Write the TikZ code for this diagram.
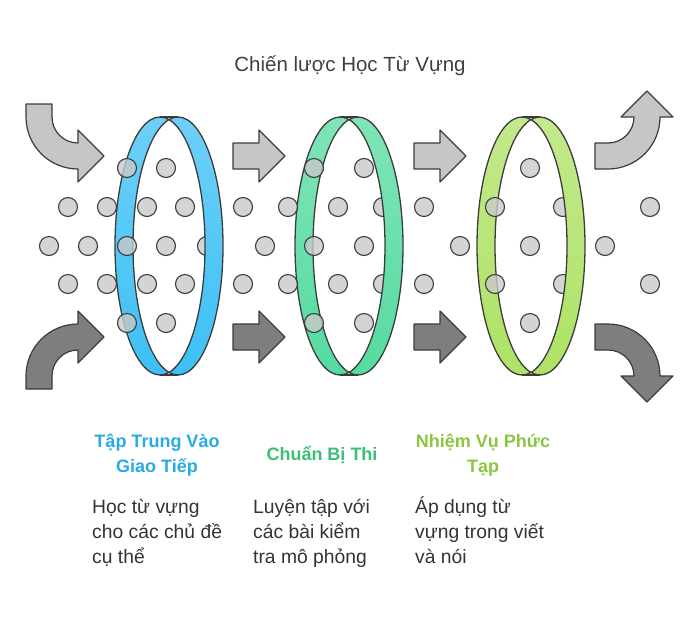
\documentclass[tikz,border=0pt]{standalone}
\usepackage{fontspec}
\setmainfont{Liberation Sans}

\definecolor{dotgray}{HTML}{C9C9C9}
\definecolor{outline}{HTML}{3C3C3C}
\definecolor{lightarrow}{HTML}{C6C6C6}
\definecolor{darkarrow}{HTML}{7E7E7E}
\definecolor{ringblue}{HTML}{3CC0F5}
\definecolor{ringgreen}{HTML}{55DBA0}
\definecolor{ringlime}{HTML}{AEE265}
\definecolor{headblue}{HTML}{27ABE2}
\definecolor{headgreen}{HTML}{3CBE78}
\definecolor{headlime}{HTML}{8CC540}
\definecolor{titlegray}{HTML}{3F3F3F}
\definecolor{bodygray}{HTML}{333333}

\tikzset{
  ringline/.style={draw=outline, line width=1.3pt},
  arrowshape/.style={draw=outline, line width=1.2pt, line join=round},
  dot/.style={draw=outline, line width=1.1pt, fill=dotgray, fill opacity=0.8},
  title/.style={text=titlegray, font=\fontsize{20.5}{24}\selectfont},
  head/.style={align=center, font=\bfseries\fontsize{18}{25}\selectfont},
  body/.style={text=bodygray, align=left, anchor=base west, inner sep=0pt,
    font=\fontsize{19.3}{25}\selectfont}
}

% one half of a tilted ring: #1 centre x, #2 colour, #3 side (-1 left, 1 right)
\newcommand{\ringhalf}[3]{%
  \begin{scope}
    \clip (#1,100) rectangle ++({#3*70},300);
    \shade[even odd rule, top color=#2!75!white, bottom color=#2]
      (#1-9,246) ellipse [x radius=45pt, y radius=129pt]
      (#1+9,246) ellipse [x radius=45pt, y radius=129pt];
    \draw[ringline] (#1-9,246) ellipse [x radius=45pt, y radius=129pt]
      (#1+9,246) ellipse [x radius=45pt, y radius=129pt];
    \draw[ringline] (#1-9,117) -- (#1+9,117) (#1-9,375) -- (#1+9,375);
  \end{scope}}

\begin{document}
\begin{tikzpicture}[x=1pt, y=-1pt]
  \useasboundingbox (0,0) rectangle (700,622);

  % bent arrows on the left
  \draw[arrowshape, fill=lightarrow] (26,104) -- (52,104) -- (52,117)
    .. controls (52,131.4) and (63.6,143) .. (78,143) -- (78,130) -- (104,156)
    -- (78,182) -- (78,169) .. controls (49.3,169) and (26,145.7) .. (26,117) -- cycle;
  \draw[arrowshape, fill=darkarrow] (26,389) -- (52,389) -- (52,376)
    .. controls (52,361.6) and (63.6,350) .. (78,350) -- (78,363) -- (104,337)
    -- (78,311) -- (78,324) .. controls (49.3,324) and (26,347.3) .. (26,376) -- cycle;

  % straight arrows between the rings
  \foreach \x in {233,414} {
    \draw[arrowshape, fill=lightarrow] (\x,143) -- (\x+26,143) -- (\x+26,130)
      -- (\x+52,156) -- (\x+26,182) -- (\x+26,169) -- (\x,169) -- cycle;
    \draw[arrowshape, fill=darkarrow] (\x,324) -- (\x+26,324) -- (\x+26,311)
      -- (\x+52,337) -- (\x+26,363) -- (\x+26,350) -- (\x,350) -- cycle;
  }

  % bent arrows on the right
  \draw[arrowshape, fill=lightarrow] (595,143) -- (608,143)
    .. controls (622.4,143) and (634,131.4) .. (634,117) -- (621,117) -- (647,91)
    -- (673,117) -- (660,117) .. controls (660,145.7) and (636.7,169) .. (608,169)
    -- (595,169) -- cycle;
  \draw[arrowshape, fill=darkarrow] (595,350) -- (608,350)
    .. controls (622.4,350) and (634,361.6) .. (634,376) -- (621,376) -- (647,402)
    -- (673,376) -- (660,376) .. controls (660,347.3) and (636.7,324) .. (608,324)
    -- (595,324) -- cycle;

  % back halves of the rings
  \ringhalf{169}{ringblue}{-1}
  \ringhalf{349}{ringgreen}{-1}
  \ringhalf{531}{ringlime}{-1}

  % particles
  \foreach \x in {127,166,314,364,530} {
    \draw[dot] (\x,168) circle [radius=9.5pt];
    \draw[dot] (\x,323) circle [radius=9.5pt];
  }
  \foreach \x in {68,107,147,185,243,288,338,383,424,495,563,650} {
    \draw[dot] (\x,207) circle [radius=9.5pt];
    \draw[dot] (\x,284) circle [radius=9.5pt];
  }
  \foreach \x in {49,88,127,166,207,265,314,364,460,530,605}
    \draw[dot] (\x,246) circle [radius=9.5pt];

  % front halves of the rings
  \ringhalf{169}{ringblue}{1}
  \ringhalf{349}{ringgreen}{1}
  \ringhalf{531}{ringlime}{1}

  % texts
  \node[title] (title) at (350,66) {Chiến lược Học Từ Vựng};

  \node[head, text=headblue] (headA) at (157,455) {Tập Trung Vào\\Giao Tiếp};
  \node[head, text=headgreen] (headB) at (322,455) {Chuẩn Bị Thi};
  \node[head, text=headlime] (headC) at (483,455) {Nhiệm Vụ Phức\\Tạp};

  \node[body] (bodyA) at (92,563) {Học từ vựng\\cho các chủ đề\\cụ thể};
  \node[body] (bodyB) at (253,563) {Luyện tập với\\các bài kiểm\\tra mô phỏng};
  \node[body] (bodyC) at (415,563) {Áp dụng từ\\vựng trong viết\\và nói};
\end{tikzpicture}
\end{document}
